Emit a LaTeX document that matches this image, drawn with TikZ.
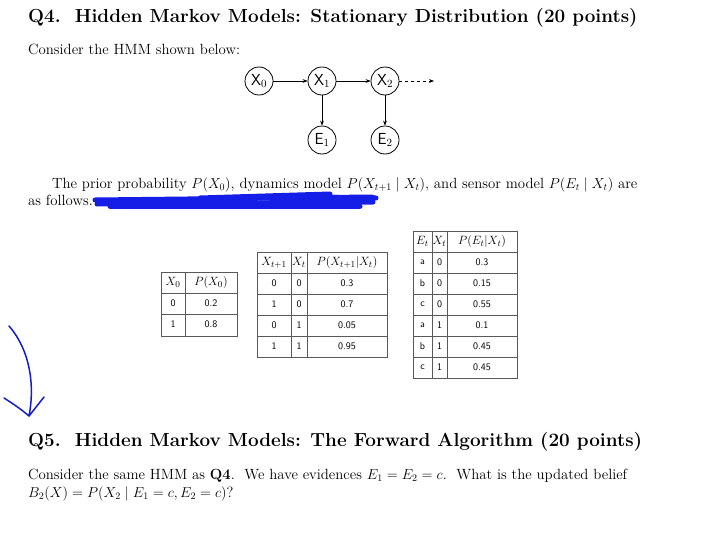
\documentclass[tikz,border=0pt]{standalone}
\usepackage{amsmath}
\usetikzlibrary{arrows.meta}
\begin{document}
\begin{tikzpicture}[x=1pt,y=-1pt,
  st/.style={circle,draw,thick,minimum size=28pt,inner sep=0pt,font=\sffamily\fontsize{16}{18}\selectfont},
  ar/.style={-{Stealth[length=5pt]},semithick},
  txt/.style={anchor=base west,inner sep=0pt,font=\fontsize{14.8}{17}\selectfont},
  ttl/.style={anchor=base west,inner sep=0pt,font=\fontsize{18.9}{22}\selectfont\bfseries},
  cell/.style={inner sep=0pt,font=\sffamily\fontsize{10}{11}\selectfont},
  hd/.style={inner sep=0pt,font=\fontsize{12.5}{13}\selectfont},
  scrib/.style={draw={rgb,255:red,20;green,30;blue,230},line width=5pt,line cap=round}]
\useasboundingbox (0,0) rectangle (701,554);
\fill[white] (0,0) rectangle (701,554);
\node[ttl] (t1) at (28,22) {Q4.\ \ Hidden Markov Models: Stationary Distribution (20 points)};
\node[txt] (c1) at (28,54) {Consider the HMM shown below:};
\node[st] (x0) at (259,81) {X$_0$};
\node[st] (x1) at (322,81) {X$_1$};
\node[st] (x2) at (385,81) {X$_2$};
\node[st] (e1) at (322,140) {E$_1$};
\node[st] (e2) at (385,140) {E$_2$};
\coordinate (xe) at (434,81);
\draw[ar] (x0) -- (x1);
\draw[ar] (x1) -- (x2);
\draw[ar] (x1) -- (e1);
\draw[ar] (x2) -- (e2);
\draw[ar,dashed] (x2) -- (xe);
\node[txt] (p1) at (52,188) {The prior probability $P(X_0)$, dynamics model $P(X_{t+1}\mid X_t)$, and sensor model $P(E_t\mid X_t)$ are};
\node[txt] (p2) at (28,205) {as follows.};
\draw[scrib] (95,200) -- (372,197);
\draw[scrib] (97,204) -- (373,202);
\draw[scrib] (110,206) -- (360,206);
\draw[scrib] (200,198) -- (330,194);
\draw[scrib] (300,197) -- (376,198);
% table 1
\draw[gray!70!black] (161,272) rectangle (237,336);
\foreach \y in {293,314} \draw[gray!70!black] (161,\y) -- (237,\y);
\draw[gray!70!black] (185,272) -- (185,336);
\node[hd] at (173,282.5) {$X_0$}; \node[hd] at (211,282.5) {$P(X_0)$};
\foreach \a/\b [count=\i] in {0/0.2,1/0.8}{
  \node[cell] at (173,282.5+21*\i) {\a}; \node[cell] at (211,282.5+21*\i) {\b};}
% table 2
\draw[gray!70!black] (257,252) rectangle (387,357);
\foreach \y in {273,294,315,336} \draw[gray!70!black] (257,\y) -- (387,\y);
\foreach \x in {291,307} \draw[gray!70!black] (\x,252) -- (\x,357);
\node[hd] at (274,262.5) {$X_{t+1}$}; \node[hd] at (299,262.5) {$X_t$}; \node[hd] at (347,262.5) {$P(X_{t+1}|X_t)$};
\foreach \a/\b/\c [count=\i] in {0/0/0.3,1/0/0.7,0/1/0.05,1/1/0.95}{
  \node[cell] at (274,262.5+21*\i) {\a}; \node[cell] at (299,262.5+21*\i) {\b}; \node[cell] at (347,262.5+21*\i) {\c};}
% table 3
\draw[gray!70!black] (413,231) rectangle (517,378);
\foreach \y in {252,273,294,315,336,357} \draw[gray!70!black] (413,\y) -- (517,\y);
\foreach \x in {432,447} \draw[gray!70!black] (\x,231) -- (\x,378);
\node[hd] at (422.5,241.5) {$E_t$}; \node[hd] at (439.5,241.5) {$X_t$}; \node[hd] at (482,241.5) {$P(E_t|X_t)$};
\foreach \a/\b/\c [count=\i] in {a/0/0.3,b/0/0.15,c/0/0.55,a/1/0.1,b/1/0.45,c/1/0.45}{
  \node[cell] at (422.5,241.5+21*\i) {\a}; \node[cell] at (439.5,241.5+21*\i) {\b}; \node[cell] at (482,241.5+21*\i) {\c};}
% blue hand arrow
\draw[draw={rgb,255:red,20;green,30;blue,200},line width=1.5pt,line cap=round,line join=round]
  (9,326) .. controls (30,350) and (35,385) .. (29,416)
  (4,398) .. controls (15,405) and (22,410) .. (29,416) -- (44,397);
\node[ttl] (t2) at (28,446) {Q5.\ \ Hidden Markov Models: The Forward Algorithm (20 points)};
\node[txt] (q1) at (28,479) {Consider the same HMM as \textbf{Q4}.\ \ We have evidences $E_1=E_2=c$.\ \ What is the updated belief};
\node[txt] (q2) at (28,497) {$B_2(X)=P(X_2\mid E_1=c,E_2=c)$?};
\end{tikzpicture}
\end{document}
